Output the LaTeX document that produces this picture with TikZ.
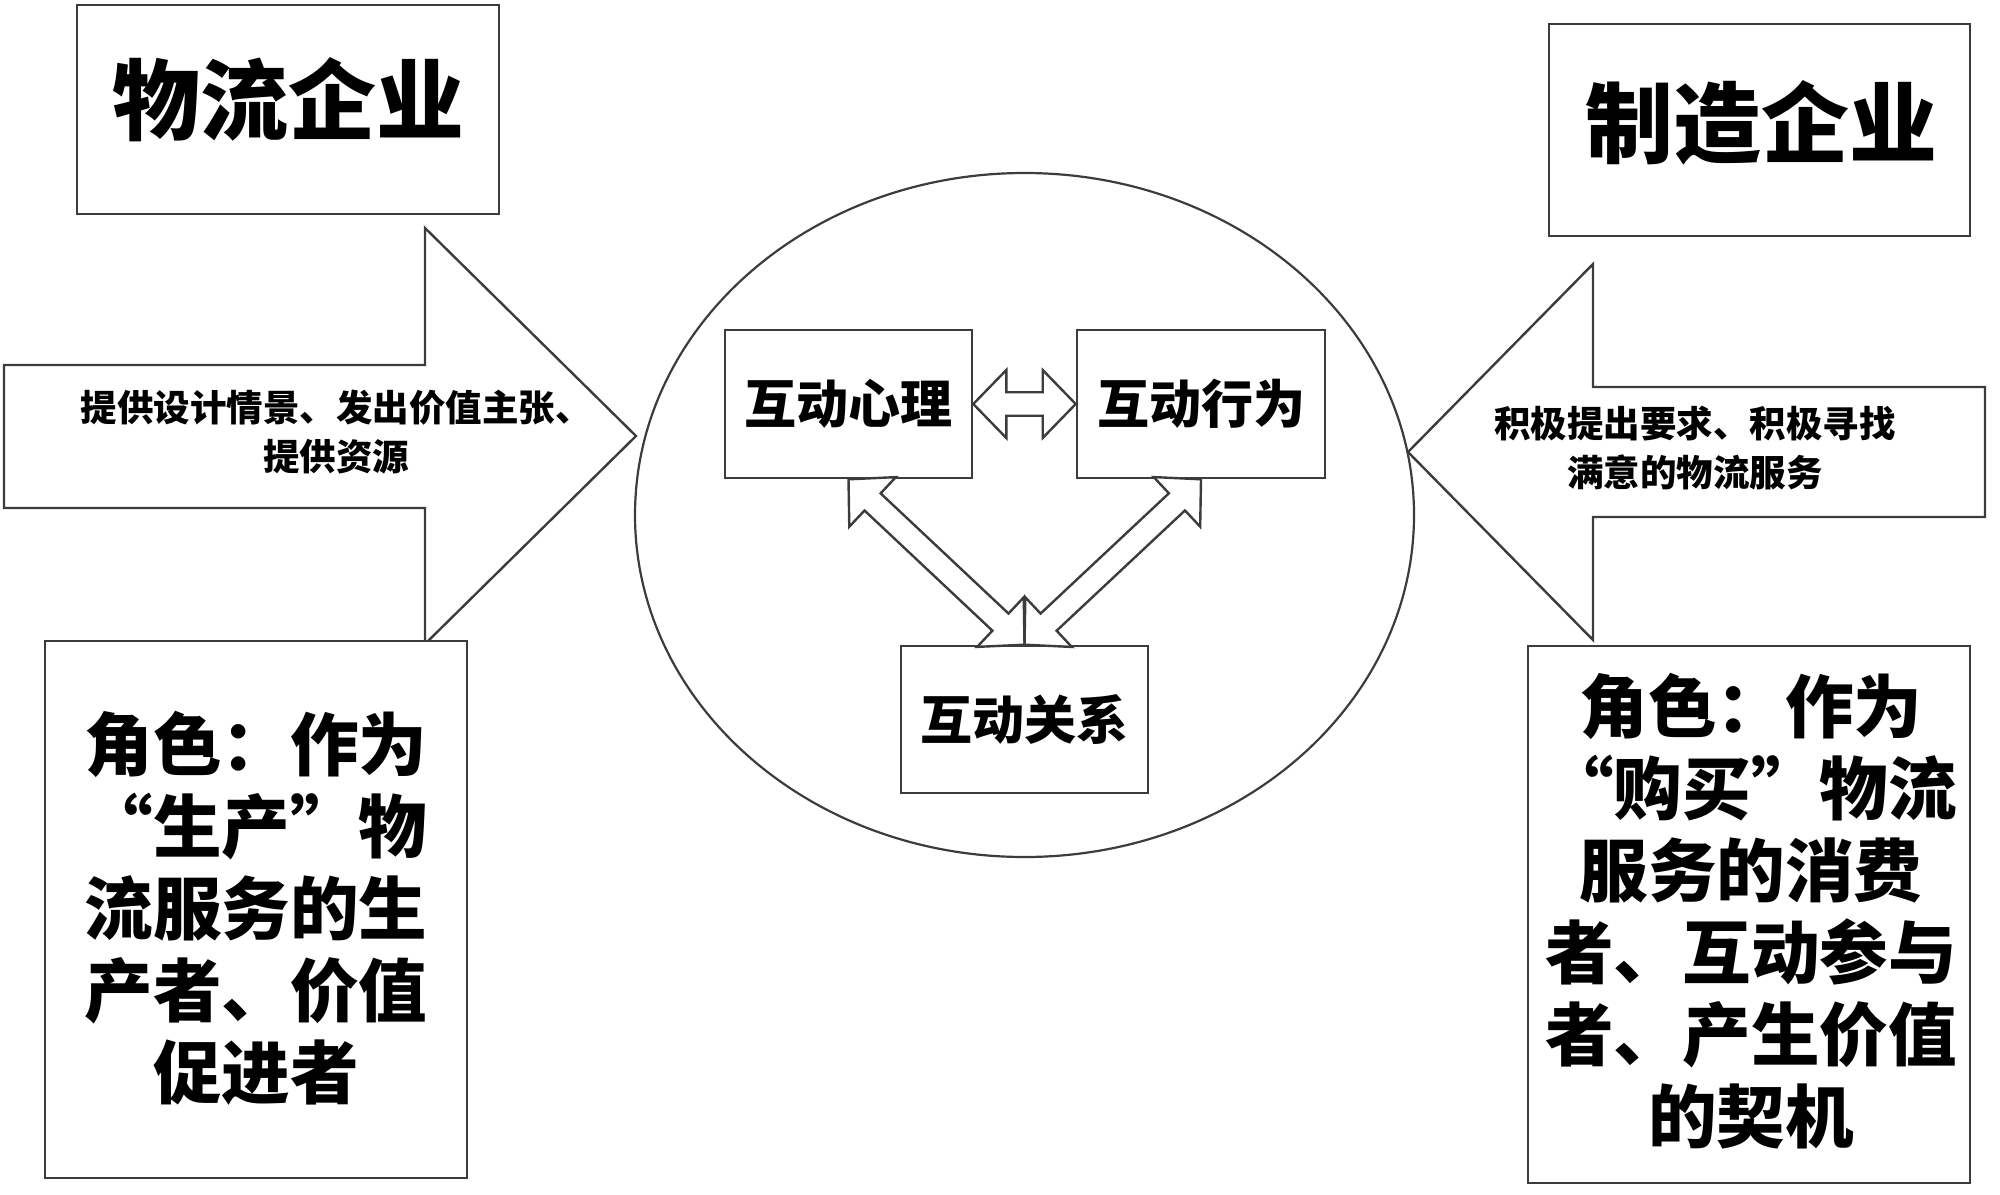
\documentclass[tikz,border=0pt]{standalone}
\usepackage{fontspec}
\setmainfont{Noto Sans CJK SC}
\usepackage{tikz}
\usetikzlibrary{positioning,shapes.geometric,calc}
\definecolor{edge}{HTML}{3C3C3C}
\tikzstyle{bx}=[%
      rectangle, draw=edge, line width=1.3pt, fill=white, inner sep=0pt
]
\tikzstyle{ba}=[%
      draw=edge, line width=1.2pt, fill=white, line join=miter
]
\tikzstyle{tt}=[%
      font=\bfseries\fontsize{44pt}{50pt}\selectfont, inner sep=0pt
]
\tikzstyle{sm}=[%
      font=\bfseries\fontsize{18.25pt}{24.5pt}\selectfont, align=center, inner sep=0pt
]
\tikzstyle{md}=[%
      font=\bfseries\fontsize{26pt}{30pt}\selectfont
]
\tikzstyle{rl}=[%
      font=\bfseries\addfontfeature{RawFeature=+fwid}\fontsize{34.3pt}{41pt}\selectfont,
      align=center, inner sep=0pt
]
% block arrow with a head at both ends
\newcommand{\dblarrow}[2]{%
\draw[ba] (#1) -- ($(#1)!23.69pt!45.85:(#2)$) -- ($(#1)!17.52pt!19.6:(#2)$)
      -- ($(#2)!17.52pt!-19.6:(#1)$) -- ($(#2)!23.69pt!-45.85:(#1)$) -- (#2)
      -- ($(#2)!23.69pt!45.85:(#1)$) -- ($(#2)!17.52pt!19.6:(#1)$)
      -- ($(#1)!17.52pt!-19.6:(#2)$) -- ($(#1)!23.69pt!-45.85:(#2)$) -- cycle;}
\begin{document}
\begin{tikzpicture}[x=0.5pt, y=-0.5pt]
\useasboundingbox (0,0) rectangle (2000,1194);
\node[ellipse, draw=edge, line width=1.1pt, minimum width=389.5pt, minimum height=342pt, inner sep=0pt](ring) at (1024.5,515){};

% big arrows
\draw[ba] (4,365) -- (425,365) -- (425,228) -- (636,436) -- (425,644) -- (425,508) -- (4,508) -- cycle;
\draw[ba] (1985,387) -- (1593,387) -- (1593,264) -- (1408,452) -- (1593,640) -- (1593,517) -- (1985,517) -- cycle;
\node[sm](la) at (336,432.5){提供设计情景、发出价值主张、\\提供资源};
\node[sm](ra) at (1695,448){积极提出要求、积极寻找\\满意的物流服务};

\node[bx, minimum width=211pt, minimum height=104.5pt](le) at (288,109.5){};
\node[tt](let) at (288,100){物流企业};
\node[bx, minimum width=210.5pt, minimum height=106pt](me) at (1759.5,130){};
\node[tt](met) at (1761,123){制造企业};

\node[bx, minimum width=211pt, minimum height=268.5pt](lr) at (256,909.5){};
\node[rl](lrt) at (256,908){角色：作为\\“生产”物\\流服务的生\\产者、价值\\促进者};
\node[bx, minimum width=221pt, minimum height=268.5pt](mr) at (1749,914.5){};
\node[rl](mrt) at (1751,911){角色：作为\\“购买”物流\\服务的消费\\者、互动参与\\者、产生价值\\的契机};

\node[bx, md, minimum width=123.5pt, minimum height=74pt](xl) at (848.5,404){互动心理};
\node[bx, md, minimum width=124pt, minimum height=74pt](xw) at (1201,404){互动行为};
\node[bx, md, minimum width=123.5pt, minimum height=73.5pt](gx) at (1024.5,719.5){互动关系};

\dblarrow{xl.east}{xw.west}
\dblarrow{xl.south}{gx.north}
\dblarrow{xw.south}{gx.north}
\end{tikzpicture}
\end{document}
